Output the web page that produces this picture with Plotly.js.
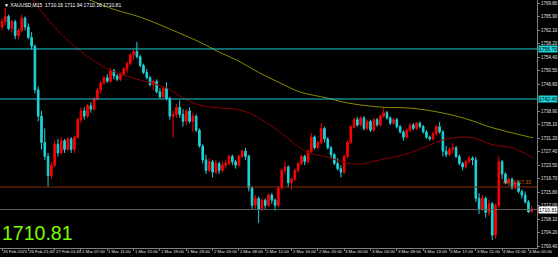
<!DOCTYPE html>
<html><head><meta charset="utf-8">
<script src="https://cdn.plot.ly/plotly-3.0.1.min.js"></script>
<style>html,body{margin:0;padding:0;background:#000;}#chart{width:558px;height:257px;}</style>
</head><body><div id="chart"></div>
<script>
const timeLabels = ["26 Feb 2021","26 Feb 21:45","27 Feb 01:45","1 Mar 07:00","1 Mar 11:00","1 Mar 15:00","1 Mar 19:00","1 Mar 23:00","2 Mar 03:00","2 Mar 08:00","2 Mar 12:00","2 Mar 16:00","2 Mar 20:00","3 Mar 00:00","3 Mar 04:00","3 Mar 09:00","3 Mar 13:00","3 Mar 17:00","3 Mar 21:00","4 Mar 01:00","4 Mar 05:00"];
const labelBars = [0,8,16,24,32,40,48,56,64,72,80,88,96,104,112,120,128,136,144,152,160];

const openP = [1763.0,1764.5,1766.0,1762.5,1764.5,1760.5,1762.0,1765.5,1763.0,1760.0,
1757.5,1745.0,1737.5,1730.0,1726.0,1720.5,1723.5,1729.5,1727.0,1730.5,
1728.0,1731.0,1728.0,1731.5,1736.5,1739.0,1737.5,1740.5,1739.5,1742.5,
1745.0,1747.0,1748.5,1747.5,1750.5,1749.0,1748.0,1749.5,1751.0,1752.5,
1755.0,1756.0,1754.5,1752.0,1750.0,1748.5,1746.5,1747.5,1744.5,1743.0,
1745.5,1742.5,1737.5,1738.0,1740.0,1738.0,1736.0,1739.0,1736.0,1737.5,
1733.5,1729.0,1725.0,1722.0,1724.5,1721.5,1724.0,1722.0,1723.5,1724.0,
1726.0,1724.5,1723.5,1726.0,1727.5,1726.0,1717.0,1712.0,1714.0,1711.0,
1713.5,1712.0,1715.0,1713.5,1712.0,1717.0,1722.0,1723.0,1718.5,1719.5,
1722.0,1724.0,1726.0,1724.5,1727.5,1731.5,1728.5,1730.0,1734.0,1731.0,
1728.5,1726.5,1724.0,1722.5,1721.5,1726.0,1730.0,1734.5,1736.5,1735.0,
1737.0,1734.0,1736.0,1733.5,1736.5,1735.0,1737.5,1738.5,1737.0,1735.5,
1736.5,1734.5,1733.0,1731.5,1733.5,1735.0,1734.0,1735.5,1734.5,1733.0,
1731.5,1731.0,1732.5,1734.5,1733.0,1727.5,1726.5,1728.0,1728.5,1726.0,
1724.0,1723.0,1724.5,1725.5,1725.0,1714.0,1711.0,1714.0,1710.0,1712.5,
1703.5,1712.0,1724.5,1721.0,1718.5,1719.5,1717.0,1718.5,1716.0,1715.0,
1713.0,1710.16];
const highP = [1765.5,1768.4,1766.5,1765.0,1765.0,1762.5,1766.5,1766.0,1764.0,1761.5,
1758.0,1746.0,1739.0,1734.0,1727.0,1724.5,1730.5,1731.0,1731.5,1731.0,
1731.5,1731.5,1732.0,1737.0,1740.0,1740.0,1741.0,1741.5,1743.0,1745.5,
1747.5,1749.0,1749.5,1751.3,1751.0,1749.5,1750.0,1751.5,1753.0,1755.5,
1756.5,1758.7,1755.0,1752.5,1751.0,1749.0,1748.0,1748.0,1745.5,1746.0,
1747.2,1743.0,1739.0,1741.0,1742.0,1739.5,1739.5,1740.0,1738.5,1738.0,
1734.0,1729.5,1726.5,1725.5,1725.0,1725.0,1724.5,1724.5,1725.0,1726.5,
1726.5,1725.0,1726.5,1728.0,1728.4,1726.5,1717.5,1715.0,1714.5,1714.0,
1714.0,1715.5,1715.5,1714.0,1717.5,1722.5,1724.5,1723.5,1720.0,1722.5,
1724.5,1726.5,1726.5,1728.0,1732.7,1732.0,1730.5,1735.5,1734.5,1731.5,
1729.0,1727.0,1725.5,1723.5,1726.5,1730.5,1735.0,1737.0,1737.3,1737.5,
1737.5,1736.5,1736.5,1737.0,1737.0,1738.0,1739.8,1739.0,1737.5,1737.0,
1737.0,1735.0,1733.5,1734.0,1735.5,1735.5,1735.8,1736.0,1735.0,1733.5,
1732.0,1733.0,1735.0,1735.8,1733.5,1729.0,1728.5,1729.8,1729.0,1726.5,
1724.5,1725.0,1726.0,1726.0,1725.8,1715.5,1715.0,1714.5,1713.5,1713.0,
1712.5,1726.0,1725.0,1721.5,1720.0,1720.0,1719.0,1719.0,1716.5,1716.0,
1713.5,1711.94];
const lowP = [1762.0,1763.5,1762.0,1761.5,1759.5,1759.5,1761.5,1762.0,1759.5,1756.5,
1744.0,1736.0,1728.0,1725.0,1717.3,1719.5,1723.0,1726.0,1726.5,1727.0,
1727.5,1727.0,1727.0,1731.0,1735.5,1736.5,1737.0,1738.5,1739.0,1742.0,
1744.0,1746.5,1747.0,1747.0,1748.0,1747.5,1747.5,1749.0,1750.0,1752.0,
1753.5,1754.0,1751.5,1749.5,1748.0,1746.0,1745.0,1744.0,1742.5,1742.5,
1742.0,1736.5,1731.5,1737.0,1737.0,1734.5,1735.0,1735.5,1733.0,1733.0,
1728.5,1724.0,1721.0,1721.5,1720.0,1721.0,1721.0,1721.5,1722.5,1723.5,
1723.5,1722.5,1723.0,1725.5,1725.0,1716.0,1711.0,1711.0,1707.0,1710.5,
1711.0,1711.5,1712.5,1710.5,1711.5,1716.5,1721.0,1717.3,1716.5,1719.0,
1721.5,1723.5,1723.5,1724.0,1727.0,1728.0,1728.0,1729.5,1730.0,1728.0,
1725.5,1723.5,1722.0,1720.0,1721.0,1725.5,1729.5,1734.0,1734.5,1734.5,
1733.5,1733.5,1733.0,1733.0,1734.5,1734.5,1737.0,1736.5,1735.0,1735.0,
1734.0,1732.5,1730.5,1731.0,1733.0,1733.5,1733.5,1734.0,1732.5,1731.0,
1730.5,1730.5,1732.0,1732.5,1726.0,1725.8,1726.0,1727.0,1725.5,1723.5,
1722.0,1722.5,1724.0,1723.5,1713.0,1709.5,1710.5,1708.5,1709.0,1702.1,
1702.5,1711.5,1719.5,1718.0,1717.5,1716.5,1716.5,1715.5,1714.0,1712.5,
1709.8,1710.16];
const closeP = [1764.5,1766.0,1762.5,1764.5,1760.5,1762.0,1765.5,1763.0,1760.0,1757.5,
1745.0,1737.5,1730.0,1726.0,1720.5,1723.5,1729.5,1727.0,1730.5,1728.0,
1731.0,1728.0,1731.5,1736.5,1739.0,1737.5,1740.5,1739.5,1742.5,1745.0,
1747.0,1748.5,1747.5,1750.5,1749.0,1748.0,1749.5,1751.0,1752.5,1755.0,
1756.0,1754.5,1752.0,1750.0,1748.5,1746.5,1747.5,1744.5,1743.0,1745.5,
1742.5,1737.5,1738.0,1740.0,1738.0,1736.0,1739.0,1736.0,1737.5,1733.5,
1729.0,1725.0,1722.0,1724.5,1721.5,1724.0,1722.0,1723.5,1724.0,1726.0,
1724.5,1723.5,1726.0,1727.5,1726.0,1717.0,1712.0,1714.0,1711.0,1713.5,
1712.0,1715.0,1713.5,1712.0,1717.0,1722.0,1723.0,1718.5,1719.5,1722.0,
1724.0,1726.0,1724.5,1727.5,1731.5,1728.5,1730.0,1734.0,1731.0,1728.5,
1726.5,1724.0,1722.5,1721.5,1726.0,1730.0,1734.5,1736.5,1735.0,1737.0,
1734.0,1736.0,1733.5,1736.5,1735.0,1737.5,1738.5,1737.0,1735.5,1736.5,
1734.5,1733.0,1731.5,1733.5,1735.0,1734.0,1735.5,1734.5,1733.0,1731.5,
1731.0,1732.5,1734.5,1733.0,1727.5,1726.5,1728.0,1728.5,1726.0,1724.0,
1723.0,1724.5,1725.5,1725.0,1714.0,1711.0,1714.0,1710.0,1712.5,1703.5,
1712.0,1724.5,1721.0,1718.5,1719.5,1717.0,1718.5,1716.0,1715.0,1713.0,
1710.16,1710.81];

// moving averages (bar position, price)
const maSlowBar = [18,26.7,34,42,51,60.2,66,71.4,78,84.5,90.6,98.8,104.9,114.9,124,134,142.2,148.3,161.4];
const maSlowVal = [1774.5,1770.7,1768.0,1765.8,1762.4,1758.6,1755.8,1753.5,1750.0,1747.0,1744.4,1742.7,1741.3,1740.1,1739.8,1738.4,1736.4,1734.4,1731.3];
const maFastBar = [9.4,14.5,19.8,26.7,32.8,39.8,50.2,54.1,60.2,67,72.3,76,82.4,92.7,98.8,104.9,108.8,114.9,124,134,139.2,143.2,149.2,155.3,161.3];
const maFastVal = [1770.7,1764.5,1759.3,1754.1,1750.7,1748.4,1745.5,1743.2,1740.6,1739.8,1739.3,1738.0,1734.4,1727.3,1725.8,1724.1,1723.8,1725.0,1727.0,1730.7,1731.5,1731.3,1729.3,1728.4,1725.5];

const yTickVals = [1700.40,1704.20,1708.10,1712.00,1715.80,1719.70,1723.50,1727.40,1731.20,1735.10,1738.90,1746.60,1750.50,1754.40,1758.20,1762.10,1765.90,1769.80];
const levelUpper = 1756.70, levelLower = 1742.40, levelOrder = 1717.26, bidPrice = 1710.81;
const headerText = "\u25BC XAUUSD,M15  1710.16 1711.94 1710.16 1710.81";
const orderText = "#0 +1717.33";

const bars = closeP.map((_, i) => i);
const fnt = "Liberation Sans, Arial, sans-serif";

const traces = [
  {type:'scatter', mode:'lines', x:maSlowBar, y:maSlowVal, line:{color:'#8a8a00', width:1, shape:'spline'}, hoverinfo:'skip'},
  {type:'scatter', mode:'lines', x:maFastBar, y:maFastVal, line:{color:'#8b0000', width:1, shape:'spline'}, hoverinfo:'skip'},
  {type:'candlestick', x:bars, open:openP, high:highP, low:lowP, close:closeP,
   increasing:{line:{color:'#ff0000', width:1}, fillcolor:'#ff0000'},
   decreasing:{line:{color:'#1fd3d8', width:1}, fillcolor:'#1fd3d8'},
   whiskerwidth:0}
];

const shapes = [
  {type:'line', xref:'paper', x0:0, x1:1, yref:'y', y0:levelUpper, y1:levelUpper, line:{color:'#1fc8d0', width:1}},
  {type:'line', xref:'paper', x0:0, x1:1, yref:'y', y0:levelLower, y1:levelLower, line:{color:'#1fc8d0', width:1}},
  {type:'line', xref:'paper', x0:0, x1:1, yref:'y', y0:levelOrder, y1:levelOrder, line:{color:'#8b2a10', width:1}},
  {type:'line', xref:'paper', x0:0, x1:1, yref:'y', y0:bidPrice, y1:bidPrice, line:{color:'#5f5f5f', width:1}}
];

const annotations = [
  {xref:'paper', yref:'y', x:1, y:levelUpper, xanchor:'left', yanchor:'middle', text:levelUpper.toFixed(2), showarrow:false,
   font:{family:fnt, size:5, color:'#000'}, bgcolor:'#1fd3d8', xshift:1, borderpad:0},
  {xref:'paper', yref:'y', x:1, y:levelLower, xanchor:'left', yanchor:'middle', text:levelLower.toFixed(2), showarrow:false,
   font:{family:fnt, size:5, color:'#000'}, bgcolor:'#1fd3d8', xshift:1, borderpad:0},
  {xref:'paper', yref:'y', x:1, y:bidPrice, xanchor:'left', yanchor:'middle', text:bidPrice.toFixed(2), showarrow:false,
   font:{family:fnt, size:5, color:'#000'}, bgcolor:'#ffffff', xshift:1, borderpad:0},
  {xref:'paper', yref:'y', x:0.993, y:levelOrder, xanchor:'right', yanchor:'bottom', text:orderText, showarrow:false,
   font:{family:fnt, size:5, color:'#d2691e'}},
  {xref:'paper', yref:'paper', x:0, y:1, xanchor:'left', yanchor:'top', text:headerText, showarrow:false,
   font:{family:fnt, size:5, color:'#ffffff'}, xshift:2, yshift:0},
  {xref:'paper', yref:'paper', x:0, y:0, xanchor:'left', yanchor:'bottom', text:bidPrice.toFixed(2), showarrow:false,
   font:{family:fnt, size:19.5, color:'#7cfc00'}, xshift:0, yshift:2}
];
labelBars.forEach((b, k) => {
  annotations.push({xref:'x', yref:'paper', x:b, y:0, xanchor:'left', yanchor:'top', text:timeLabels[k], showarrow:false,
    font:{family:fnt, size:4.3, color:'#e0e0e0'}, xshift:0, yshift:0, borderpad:0});
});

const layout = {
  width:558, height:257,
  margin:{l:0, r:21, t:0, b:9, pad:0},
  paper_bgcolor:'#000', plot_bgcolor:'#000',
  showlegend:false,
  xaxis:{range:[-0.61,162.6], rangeslider:{visible:false}, showgrid:false, zeroline:false,
    tickmode:'array', tickvals:labelBars, ticks:'outside', ticklen:2, tickcolor:'#808080',
    showticklabels:false, showline:true, linecolor:'#808080', linewidth:1, fixedrange:true},
  yaxis:{side:'right', range:[1699.83,1770.69], showgrid:false, zeroline:false,
    tickmode:'array', tickvals:yTickVals, ticktext:yTickVals.map(v=>v.toFixed(2)), ticks:'outside', ticklen:2, tickcolor:'#808080',
    tickfont:{family:fnt, size:4.5, color:'#e0e0e0'},
    showline:true, linecolor:'#808080', linewidth:1, fixedrange:true},
  shapes:shapes, annotations:annotations
};

Plotly.newPlot('chart', traces, layout, {displayModeBar:false, staticPlot:true});
</script></body></html>
